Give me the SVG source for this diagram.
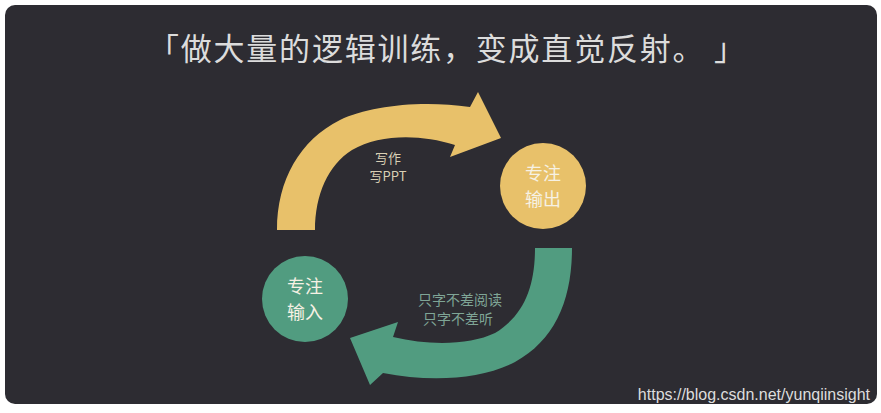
<svg xmlns="http://www.w3.org/2000/svg" width="881" height="413" viewBox="0 0 881 413">
<style>
.cjk{font-family:"Noto Sans CJK SC","Noto Sans",sans-serif;}
.circ{font-size:18px;fill:#f6f1e4;text-anchor:middle;}
</style>
<rect x="0" y="0" width="881" height="413" fill="#ffffff"/>
<rect x="5" y="5" width="872" height="399" rx="10" fill="#2d2c32"/>
<text class="cjk" x="148" y="60" font-size="31" fill="#dcdcdc" textLength="597" lengthAdjust="spacing">「做大量的逻辑训练，变成直觉反射。 」</text>
<g id="connectors">
<path id="arrow-write" d="M277,230 C277,180 300,140 340,120 C370,106 420,100 470,107 L478,92 L501,138 L450,157 L455,145 C420,134 380,134 352,150 C328,165 315,195 315,230 Z" fill="#e8c16a"/>
<path id="arrow-read" d="M535,248 L572,248 C572,300 555,340 515,362 C480,380 430,382 383,373 L370,385 L350,338 L398,322 L393,337 C430,346 470,345 495,333 C525,315 535,285 535,248 Z" fill="#519c80"/>
<text class="cjk" x="388" y="163" font-size="13" fill="#d9cfb4" text-anchor="middle">写作</text>
<text class="cjk" x="388" y="181" font-size="13" fill="#d9cfb4" text-anchor="middle">写PPT</text>
<text class="cjk" x="460" y="305" font-size="14" fill="#7fa596" text-anchor="middle">只字不差阅读</text>
<text class="cjk" x="458" y="324" font-size="14" fill="#7fa596" text-anchor="middle">只字不差听</text>
</g>
<g id="node-output">
<circle cx="543" cy="186" r="43" fill="#e8c16a"/>
<text class="cjk circ" x="543" y="180">专注</text>
<text class="cjk circ" x="543" y="206">输出</text>
</g>
<g id="node-input">
<circle cx="305" cy="299" r="43" fill="#519c80"/>
<text class="cjk circ" x="305" y="293">专注</text>
<text class="cjk circ" x="305" y="319">输入</text>
</g>
<text x="870" y="400" font-family="Liberation Sans, Arial, sans-serif" font-size="16" fill="#dddddd" text-anchor="end">https://blog.csdn.net/yunqiinsight</text>
</svg>
